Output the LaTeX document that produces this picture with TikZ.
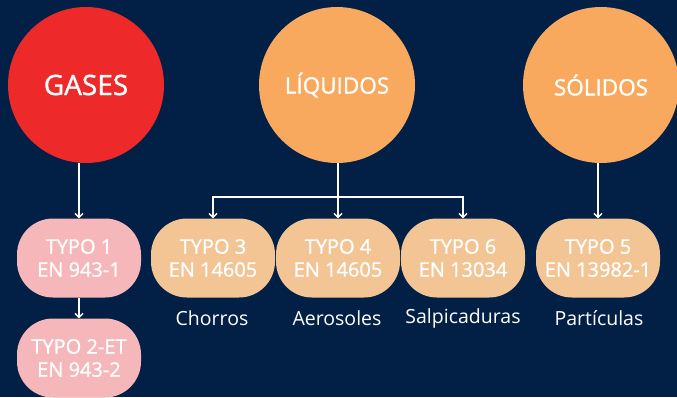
\documentclass[tikz,border=0pt]{standalone}
\usepackage{fontspec}
\setmainfont{Open Sans}
\newfontfamily\semib{Open Sans}[FakeBold=1.2]
\usetikzlibrary{arrows.meta}
\definecolor{bg}{RGB}{2,32,69}
\definecolor{gasred}{RGB}{237,41,41}
\definecolor{circorange}{RGB}{248,169,93}
\definecolor{pinkbox}{RGB}{245,183,185}
\definecolor{peachbox}{RGB}{243,196,148}
\tikzset{
  bigcirc/.style={circle, minimum size=156pt, inner sep=0pt, text=white, font=\semib\fontsize{22.5}{26}\selectfont},
  typebox/.style={rounded corners=36pt, minimum width=124pt, minimum height=79pt, inner sep=0pt, text=white, align=center, font=\semib\fontsize{20}{23}\selectfont},
  lbl/.style={text=white, font=\fontsize{19.5}{22}\selectfont, inner sep=0pt},
  conn/.style={draw=white, line width=1.5pt},
  arr/.style={conn, -{Straight Barb[length=4pt,width=8pt,line width=1.3pt]}}
}
\begin{document}
\begin{tikzpicture}[x=1pt,y=-1pt]
\fill[bg] (0,0) rectangle (677,397);
\useasboundingbox (0,0) rectangle (677,397);
\node[bigcirc, fill=gasred, font=\semib\fontsize{28}{32}\selectfont] (gases) at (86,85) {GASES};
\node[bigcirc, fill=circorange] (liq) at (337,85) {LÍQUIDOS};
\node[bigcirc, fill=circorange] (sol) at (601,85) {SÓLIDOS};
\node[typebox, fill=pinkbox] (t1) at (79,258) {TYPO 1\\EN 943-1};
\node[typebox, fill=pinkbox] (t2) at (79,358) {TYPO 2-ET\\EN 943-2};
\node[typebox, fill=peachbox] (t3) at (213,258) {TYPO 3\\EN 14605};
\node[typebox, fill=peachbox] (t4) at (338,258) {TYPO 4\\EN 14605};
\node[typebox, fill=peachbox] (t6) at (463,258) {TYPO 6\\EN 13034};
\node[typebox, fill=peachbox] (t5) at (598,258) {TYPO 5\\EN 13982-1};
\node[lbl] (l3) at (212,318) {Chorros};
\node[lbl] (l4) at (337,318) {Aerosoles};
\node[lbl] (l6) at (463,318) {Salpicaduras};
\node[lbl] (l5) at (599,318) {Partículas};
\coordinate (br) at (338,197);
\draw[arr] (t1.north |- gases.south) -- (t1.north);
\draw[arr] (t1.south) -- (t2.north);
\draw[conn] (liq.south -| br) -- (br);
\draw[arr] (br) -- (t4.north);
\draw[arr] (br) -| (t3.north);
\draw[arr] (br) -| (t6.north);
\draw[arr] (t5.north |- sol.south) -- (t5.north);
\end{tikzpicture}
\end{document}
